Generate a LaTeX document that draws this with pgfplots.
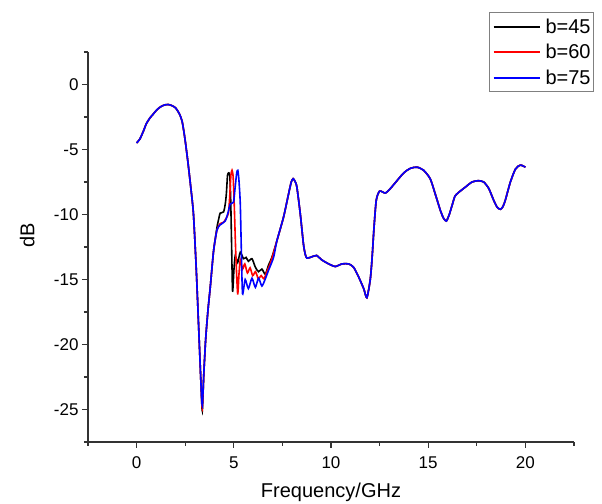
\documentclass[border=0pt]{standalone}
\usepackage{pgfplots}
\pgfplotsset{compat=1.18}
\usepackage{fontspec}
\setmainfont{Liberation Sans}
\begin{document}
\begin{tikzpicture}
\begin{axis}[
 scale only axis, width=486pt, height=390pt,
 xmin=-2.5, xmax=22.5, ymin=-27.5, ymax=2.5,
 axis x line*=bottom, axis y line*=left,
 axis line style={line width=1.2pt, black!80},
 xtick={0,5,...,20}, ytick={-25,-20,...,0},
 minor xtick={-2.5,2.5,...,22.5}, minor ytick={-27.5,-22.5,...,2.5},
 tick align=outside,
 major tick length=6pt, minor tick length=4pt,
 every tick/.style={line width=1.2pt, black!80},
 ticklabel style={font=\fontsize{17}{19}\selectfont},
 xticklabel style={yshift=-5pt},
 /pgf/number format/assume math mode=true,
 xlabel={Frequency/GHz}, ylabel={dB},
 label style={font=\fontsize{20}{23}\selectfont},
 xlabel style={at={(axis description cs:0.5,-0.1436)}, anchor=base},
 ylabel style={at={(axis description cs:-0.125,0.529)}, anchor=center},
 legend style={at={(1.0412,1.1026)}, anchor=north east, draw=gray, line width=0.8pt,
   font=\fontsize{20}{22}\selectfont, inner xsep=3pt, inner ysep=1.5pt,
   nodes={inner sep=0pt, minimum height=25.5pt}},
 legend cell align=left,
 legend image code/.code={\path[draw=none] (0pt,0pt) -- (52pt,0pt);\draw[#1, line width=2pt] (0pt,0pt) -- (46pt,0pt);},
 every axis plot/.append style={line width=1.6pt, smooth, tension=0.4},
]
\addplot[black] coordinates {
(0.000,-4.50) (0.167,-4.20) (0.360,-3.55) (0.505,-3.00) (0.699,-2.55)
(0.873,-2.25) (1.038,-1.95) (1.231,-1.72) (1.425,-1.58) (1.618,-1.54) (1.812,-1.62)
(2.005,-1.80) (2.199,-2.25) (2.344,-2.85) (2.489,-4.20) (2.634,-5.90) (2.779,-7.80)
(2.924,-9.95) (3.069,-14.2) (3.215,-19.5) (3.311,-23.0) (3.379,-25.1) (3.456,-22.3)
(3.553,-19.6) (3.669,-17.4) (3.795,-15.5) (3.960,-12.8) (4.134,-11.0)
(4.231,-10.3) (4.298,-9.9) (4.473,-9.8) (4.560,-9.2) (4.618,-8.4) (4.676,-7.0)
(4.734,-6.8) (4.792,-7.0) (4.840,-8.8) (4.889,-12.5) (4.937,-15.9) (5.005,-14.3)
(5.072,-13.2) (5.198,-13.7) (5.334,-12.9) (5.498,-13.4) (5.634,-13.3) (5.750,-13.6)
(5.934,-13.4) (6.108,-14.05) (6.272,-14.4) (6.446,-14.2) (6.621,-14.6) (6.785,-13.9)
(6.959,-13.3) (7.221,-12.0)
(7.559,-10.2) (7.820,-8.4) (7.956,-7.5) (8.053,-7.25) (8.149,-7.45) (8.246,-7.9)
(8.420,-9.95) (8.585,-12.3) (8.682,-13.1) (8.759,-13.35) (8.933,-13.3) (9.107,-13.2)
(9.262,-13.15) (9.533,-13.5) (9.881,-13.8) (10.220,-14.0) (10.568,-13.8) (10.907,-13.8)
(11.158,-14.05) (11.420,-14.8) (11.681,-15.7) (11.845,-16.4) (12.020,-15.0) (12.116,-13.3)
(12.213,-11.0) (12.329,-8.9) (12.503,-8.2) (12.794,-8.35) (13.055,-8.0) (13.394,-7.4)
(13.742,-6.8) (14.081,-6.45) (14.429,-6.36) (14.768,-6.6) (15.106,-7.26) (15.358,-8.4)
(15.629,-9.7) (15.793,-10.3) (15.938,-10.5) (16.084,-10.0) (16.229,-9.3) (16.374,-8.6)
(16.567,-8.3) (16.906,-7.9) (17.255,-7.5) (17.583,-7.4) (17.854,-7.5) (18.116,-8.0)
(18.367,-8.9) (18.551,-9.45) (18.716,-9.6) (18.841,-9.4) (18.967,-8.9) (19.228,-7.5)
(19.490,-6.5) (19.741,-6.2) (20.000,-6.36)
};
\addlegendentry{b=45}
\addplot[red] coordinates {
(0.000,-4.50) (0.167,-4.20) (0.360,-3.55) (0.505,-3.00) (0.699,-2.55)
(0.873,-2.25) (1.038,-1.95) (1.231,-1.72) (1.425,-1.58) (1.618,-1.54) (1.812,-1.62)
(2.005,-1.80) (2.199,-2.25) (2.344,-2.85) (2.489,-4.20) (2.634,-5.90) (2.779,-7.80)
(2.924,-9.95) (3.069,-14.2) (3.215,-19.5) (3.311,-23.0) (3.379,-24.9) (3.456,-22.3)
(3.553,-19.6) (3.669,-17.4) (3.795,-15.5) (3.960,-12.8) (4.134,-11.2)
(4.298,-10.7) (4.473,-10.6) (4.714,-9.95) (4.782,-8.8) (4.850,-7.0) (4.908,-6.6)
(4.966,-7.1) (5.024,-9.3) (5.102,-13.0) (5.198,-16.1) (5.266,-14.6) (5.334,-13.5)
(5.450,-14.2) (5.566,-13.8) (5.701,-14.5) (5.837,-14.1) (5.972,-14.7) (6.117,-14.4)
(6.263,-14.95) (6.408,-14.7) (6.553,-14.95) (6.698,-14.4) (6.843,-13.9) (7.018,-13.1)
(7.221,-12.0)
(7.559,-10.2) (7.820,-8.4) (7.956,-7.5) (8.053,-7.25) (8.149,-7.45) (8.246,-7.9)
(8.420,-9.95) (8.585,-12.3) (8.682,-13.1) (8.759,-13.35) (8.933,-13.3) (9.107,-13.2)
(9.262,-13.15) (9.533,-13.5) (9.881,-13.8) (10.220,-14.0) (10.568,-13.8) (10.907,-13.8)
(11.158,-14.05) (11.420,-14.8) (11.681,-15.7) (11.845,-16.4) (12.020,-15.0) (12.116,-13.3)
(12.213,-11.0) (12.329,-8.9) (12.503,-8.2) (12.794,-8.35) (13.055,-8.0) (13.394,-7.4)
(13.742,-6.8) (14.081,-6.45) (14.429,-6.36) (14.768,-6.6) (15.106,-7.26) (15.358,-8.4)
(15.629,-9.7) (15.793,-10.3) (15.938,-10.5) (16.084,-10.0) (16.229,-9.3) (16.374,-8.6)
(16.567,-8.3) (16.906,-7.9) (17.255,-7.5) (17.583,-7.4) (17.854,-7.5) (18.116,-8.0)
(18.367,-8.9) (18.551,-9.45) (18.716,-9.6) (18.841,-9.4) (18.967,-8.9) (19.228,-7.5)
(19.490,-6.5) (19.741,-6.2) (20.000,-6.36)
};
\addlegendentry{b=60}
\addplot[blue] coordinates {
(0.000,-4.50) (0.167,-4.20) (0.360,-3.55) (0.505,-3.00) (0.699,-2.55)
(0.873,-2.25) (1.038,-1.95) (1.231,-1.72) (1.425,-1.58) (1.618,-1.54) (1.812,-1.62)
(2.005,-1.80) (2.199,-2.25) (2.344,-2.85) (2.489,-4.20) (2.634,-5.90) (2.779,-7.80)
(2.924,-9.95) (3.069,-14.2) (3.215,-19.5) (3.311,-23.0) (3.379,-24.7) (3.456,-22.3)
(3.553,-19.6) (3.669,-17.4) (3.795,-15.5) (3.960,-12.8) (4.134,-11.2)
(4.298,-10.8) (4.560,-10.5) (4.714,-9.8) (4.811,-9.2) (4.985,-9.05) (5.063,-8.0)
(5.150,-6.8) (5.208,-6.6) (5.266,-7.4) (5.334,-9.2) (5.392,-13.0) (5.450,-16.1)
(5.585,-15.0) (5.750,-15.7) (5.934,-14.9) (6.108,-15.6) (6.272,-14.9) (6.446,-15.5)
(6.621,-14.95) (6.785,-14.3) (7.046,-13.3) (7.221,-12.0)
(7.559,-10.2) (7.820,-8.4) (7.956,-7.5) (8.053,-7.25) (8.149,-7.45) (8.246,-7.9)
(8.420,-9.95) (8.585,-12.3) (8.682,-13.1) (8.759,-13.35) (8.933,-13.3) (9.107,-13.2)
(9.262,-13.15) (9.533,-13.5) (9.881,-13.8) (10.220,-14.0) (10.568,-13.8) (10.907,-13.8)
(11.158,-14.05) (11.420,-14.8) (11.681,-15.7) (11.845,-16.4) (12.020,-15.0) (12.116,-13.3)
(12.213,-11.0) (12.329,-8.9) (12.503,-8.2) (12.794,-8.35) (13.055,-8.0) (13.394,-7.4)
(13.742,-6.8) (14.081,-6.45) (14.429,-6.36) (14.768,-6.6) (15.106,-7.26) (15.358,-8.4)
(15.629,-9.7) (15.793,-10.3) (15.938,-10.5) (16.084,-10.0) (16.229,-9.3) (16.374,-8.6)
(16.567,-8.3) (16.906,-7.9) (17.255,-7.5) (17.583,-7.4) (17.854,-7.5) (18.116,-8.0)
(18.367,-8.9) (18.551,-9.45) (18.716,-9.6) (18.841,-9.4) (18.967,-8.9) (19.228,-7.5)
(19.490,-6.5) (19.741,-6.2) (20.000,-6.36)
};
\addlegendentry{b=75}
\coordinate (bbll) at (rel axis cs:-0.18107,-0.15897);
\coordinate (bbur) at (rel axis cs:1.05761,1.13333);
\end{axis}
\pgfresetboundingbox
\path[use as bounding box] (bbll) rectangle (bbur);
\end{tikzpicture}
\end{document}
